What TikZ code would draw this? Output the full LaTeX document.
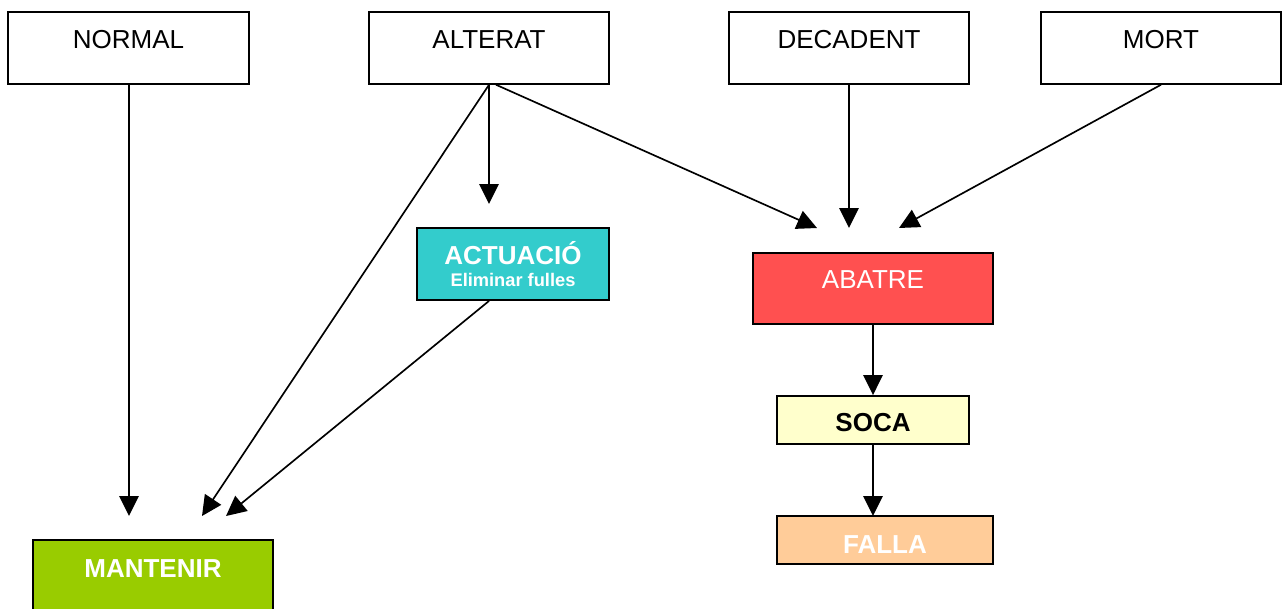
\documentclass[tikz,border=0pt]{standalone}
\usepackage{fontspec}
\setmainfont{Liberation Sans}
\usetikzlibrary{arrows.meta,calc}
\definecolor{cteal}{HTML}{33CCCC}
\definecolor{cred}{HTML}{FF5050}
\definecolor{cyel}{HTML}{FFFFCC}
\definecolor{corange}{HTML}{FFCC99}
\definecolor{cgreen}{HTML}{99CC00}
\begin{document}
\begin{tikzpicture}[x=0.75pt,y=-0.75pt,
  topbox/.style={draw=black,line width=1.1pt,fill=white,inner sep=0pt},
  colbox/.style={draw=black,line width=1.4pt,inner sep=0pt},
  toptxt/.style={anchor=base,inner sep=0pt,font=\fontsize{19.5}{23}\selectfont},
  bigtxt/.style={anchor=base,inner sep=0pt,font=\fontsize{19.5}{23}\selectfont},
  bigbold/.style={bigtxt,font=\fontsize{19.5}{23}\selectfont\bfseries},
  arr/.style={line width=1.25pt,-{Triangle[length=15pt,width=14.5pt]}}]
\useasboundingbox (0,0) rectangle (1287,608);
\clip (0,0) rectangle (1287,608);
\fill[white] (0,0) rectangle (1287,608);
% top boxes
\node[topbox,minimum width=241*0.75pt,minimum height=72*0.75pt] (normal) at (128.5,48) {};
\node[topbox,minimum width=240*0.75pt,minimum height=72*0.75pt] (alterat) at (489,48) {};
\node[topbox,minimum width=240*0.75pt,minimum height=72*0.75pt] (decadent) at (849,48) {};
\node[topbox,minimum width=240*0.75pt,minimum height=72*0.75pt] (mort) at (1161,48) {};
\node[toptxt] (normalT) at (128.5,48) {NORMAL};
\node[toptxt] (alteratT) at (489,48) {ALTERAT};
\node[toptxt] (decadentT) at (849,48) {DECADENT};
\node[toptxt] (mortT) at (1161,48) {MORT};
% coloured boxes
\node[colbox,fill=cteal,minimum width=192*0.75pt,minimum height=72*0.75pt] (actuacio) at (513,264) {};
\node[bigbold,text=white] (actuacioT) at (513,264) {ACTUACIÓ};
\node[anchor=base,inner sep=0pt,text=white,font=\fontsize{13.7}{16}\selectfont\bfseries] (actuacioS) at (513,286.5) {Eliminar fulles};
\node[colbox,fill=cred,minimum width=240*0.75pt,minimum height=71*0.75pt] (abatre) at (873,288.5) {};
\node[bigtxt,text=white] (abatreT) at (873,288) {ABATRE};
\node[colbox,fill=cyel,minimum width=192*0.75pt,minimum height=48*0.75pt] (soca) at (873,420) {};
\node[bigbold,text=black] (socaT) at (873,431.5) {SOCA};
\node[colbox,fill=corange,minimum width=216*0.75pt,minimum height=48*0.75pt] (falla) at (885,540) {};
\node[bigbold,text=white] (fallaT) at (885,553) {FALLA};
\node[colbox,fill=cgreen,minimum width=240*0.75pt,minimum height=72*0.75pt] (mantenir) at (153,576) {};
\node[bigbold,text=white] (mantenirT) at (153,577) {MANTENIR};
% arrow end points
\coordinate (eNormal) at (129,516);
\coordinate (eAltDown) at (489,204);
\coordinate (eAltMan) at (202,516);
\coordinate (eAltAb) at (817,228);
\coordinate (eDec) at (849,228);
\coordinate (eMort) at (899,228);
\coordinate (eAct) at (226,516);
\coordinate (eFalla) at (873,516);
% connectors
\draw[arr] ($(normal.south)+(0.5,0)$) -- (eNormal);
\draw[arr] (alterat.south) -- (eAltDown);
\draw[arr] (alterat.south) -- (eAltMan);
\draw[arr] ($(alterat.south)+(7,0)$) -- (eAltAb);
\draw[arr] (decadent.south) -- (eDec);
\draw[arr] (mort.south) -- (eMort);
\draw[arr] ($(actuacio.south)+(-24,0)$) -- (eAct);
\draw[arr] (abatre.south) -- (soca.north);
\draw[arr] (soca.south) -- (eFalla);
\end{tikzpicture}
\end{document}
